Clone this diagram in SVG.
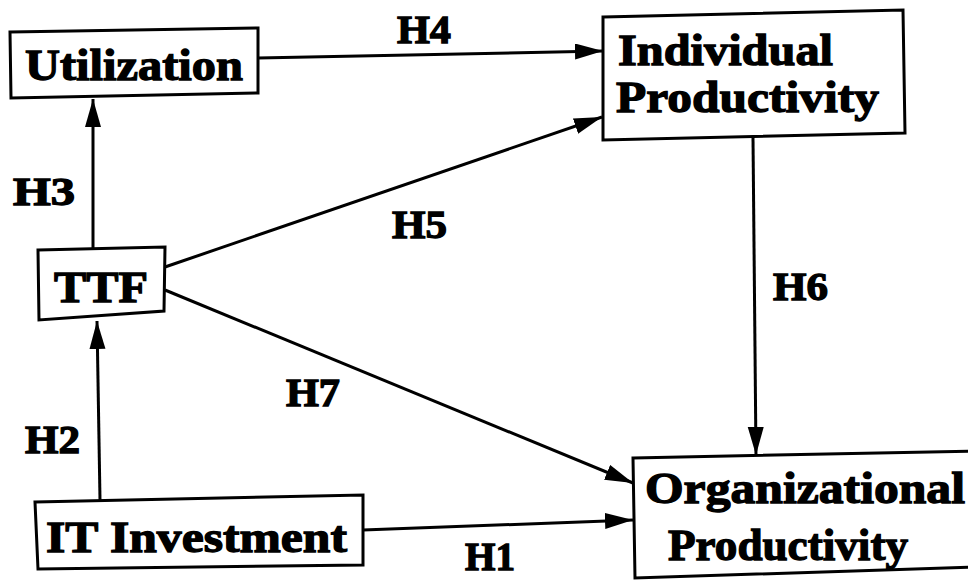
<svg xmlns="http://www.w3.org/2000/svg" width="968" height="580" viewBox="0 0 968 580">
<style>
.box{fill:#fff;stroke:#000;stroke-width:3;stroke-linejoin:miter}
.t{font-family:"Liberation Serif","Times New Roman",serif;font-weight:bold;font-size:45px;fill:#000;stroke:#000;stroke-width:1.3}
.h{font-family:"Liberation Serif","Times New Roman",serif;font-weight:bold;font-size:40px;fill:#000;stroke:#000;stroke-width:1.3}
.c{stroke:#000;stroke-width:3;fill:none;marker-end:url(#ah)}
</style>
<defs>
<marker id="ah" markerUnits="userSpaceOnUse" markerWidth="30" markerHeight="18" refX="28" refY="8" orient="auto">
<path d="M0,0 L28,8 L0,16 Z" fill="#000"/>
</marker>
</defs>
<rect width="968" height="580" fill="#fff"/>
<g id="connectors">
<line class="c" x1="258" y1="58" x2="603" y2="51"/>
<line class="c" x1="165" y1="267" x2="602" y2="117"/>
<line class="c" x1="165" y1="290" x2="633" y2="483"/>
<line class="c" x1="363" y1="530" x2="633" y2="520"/>
<line class="c" x1="93" y1="248" x2="93" y2="99"/>
<line class="c" x1="100" y1="500" x2="97" y2="321"/>
<line class="c" x1="753" y1="138" x2="756" y2="455"/>
</g>
<g id="labels">
<text class="h" x="397" y="43" textLength="54" lengthAdjust="spacingAndGlyphs">H4</text>
<text class="h" x="13" y="205" textLength="62" lengthAdjust="spacingAndGlyphs">H3</text>
<text class="h" x="392" y="238" textLength="55" lengthAdjust="spacingAndGlyphs">H5</text>
<text class="h" x="773" y="300" textLength="55" lengthAdjust="spacingAndGlyphs">H6</text>
<text class="h" x="286" y="406" textLength="54" lengthAdjust="spacingAndGlyphs">H7</text>
<text class="h" x="25" y="453" textLength="55" lengthAdjust="spacingAndGlyphs">H2</text>
<text class="h" x="465" y="570" textLength="50" lengthAdjust="spacingAndGlyphs">H1</text>
</g>
<g id="utilization">
<polygon class="box" points="10,32 258,28 258,93 11,98"/>
<text class="t" x="25" y="80" textLength="218" lengthAdjust="spacingAndGlyphs">Utilization</text>
</g>
<g id="individual">
<polygon class="box" points="603,17 903,10 905,133 603,140"/>
<text class="t" x="618" y="65" textLength="215" lengthAdjust="spacingAndGlyphs">Individual</text>
<text class="t" x="616" y="112" textLength="263" lengthAdjust="spacingAndGlyphs">Productivity</text>
</g>
<g id="ttf">
<polygon class="box" points="38,250 165,247 164,311 39,320"/>
<text class="t" x="54" y="302" textLength="94" lengthAdjust="spacingAndGlyphs">TTF</text>
</g>
<g id="it">
<polygon class="box" points="35,502 363,495 363,565 38,569"/>
<text class="t" x="46" y="552" textLength="301" lengthAdjust="spacingAndGlyphs">IT Investment</text>
</g>
<g id="org">
<polygon class="box" points="633,458 975,451 975,567 635,578"/>
<text class="t" x="645" y="503" textLength="320" lengthAdjust="spacingAndGlyphs">Organizational</text>
<text class="t" x="668" y="560" textLength="240" lengthAdjust="spacingAndGlyphs">Productivity</text>
</g>
</svg>
